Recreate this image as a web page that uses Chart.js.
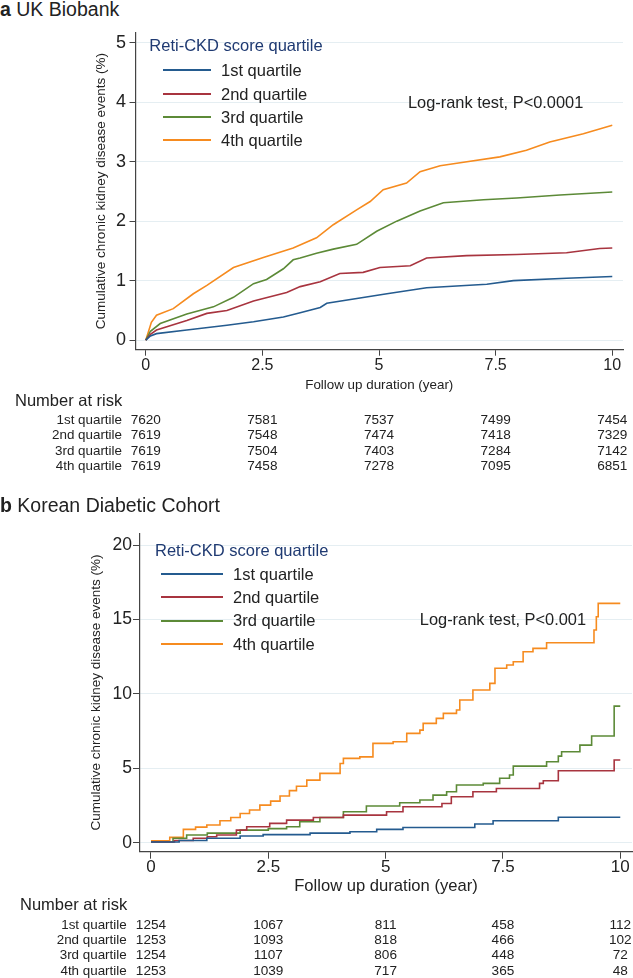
<!DOCTYPE html>
<html>
<head>
<meta charset="utf-8">
<title>Reti-CKD score quartile - cumulative CKD events</title>
<script src="https://cdn.jsdelivr.net/npm/chart.js@4.4.0/dist/chart.umd.min.js"></script>
<style>
  body { margin: 0; background: #fff; }
  #page { position: relative; width: 633px; height: 978px; overflow: hidden;
          font-family: "Liberation Sans", Arial, sans-serif; color: #222; }
  #page canvas { position: absolute; left: 0; }
  .txt { position: absolute; white-space: nowrap; }
  .key { position: absolute; height: 1.8px; }
</style>
</head>
<body>
<div id="page">
  <canvas id="chartA" width="633" height="375" style="top:20px"></canvas>
  <canvas id="chartB" width="633" height="420" style="top:480px"></canvas>
</div>
<script>
const quartiles = ['1st quartile', '2nd quartile', '3rd quartile', '4th quartile']
const lineColors = ['#245b8f', '#a8343f', '#5c8a37', '#f68b1f']

const xTicks = [0, 2.5, 5, 7.5, 10]
const xTickLabels = ['0', '2.5', '5', '7.5', '10']
const ukYTicks = [0, 1, 2, 3, 4, 5]
const krYTicks = [0, 5, 10, 15, 20]

// a  UK Biobank (years, cumulative %)
const ukYears1 = [0, 0.1, 0.23, 0.88, 1.74, 2.31, 2.95, 3.31, 3.74, 3.88, 5.17, 6.02, 7.31, 7.88, 9.02, 10]
const ukCum1 = [0, 0.07, 0.11, 0.17, 0.25, 0.31, 0.39, 0.46, 0.55, 0.62, 0.78, 0.88, 0.94, 1.0, 1.04, 1.07]
const ukYears2 = [0, 0.1, 0.23, 0.88, 1.31, 1.74, 2.31, 3.02, 3.31, 3.74, 4.16, 4.66, 5.02, 5.67, 6.02, 6.88, 7.95, 9.02, 9.73, 10]
const ukCum2 = [0, 0.1, 0.17, 0.33, 0.45, 0.5, 0.66, 0.8, 0.9, 0.98, 1.12, 1.14, 1.22, 1.25, 1.38, 1.42, 1.44, 1.47, 1.54, 1.55]
const ukYears3 = [0, 0.1, 0.31, 0.88, 1.45, 1.88, 2.31, 2.59, 2.95, 3.16, 3.31, 3.66, 4.02, 4.52, 4.95, 5.38, 5.88, 6.38, 7.24, 7.95, 8.88, 10]
const ukCum3 = [0, 0.15, 0.28, 0.44, 0.56, 0.72, 0.95, 1.02, 1.2, 1.35, 1.38, 1.46, 1.53, 1.61, 1.83, 2.0, 2.17, 2.31, 2.36, 2.39, 2.44, 2.49]
const ukYears4 = [0, 0.12, 0.23, 0.59, 1.02, 1.31, 1.88, 2.52, 3.16, 3.66, 4.02, 4.52, 4.81, 5.09, 5.59, 5.88, 6.31, 6.74, 7.59, 8.16, 8.66, 9.38, 10]
const ukCum4 = [0, 0.3, 0.42, 0.53, 0.78, 0.92, 1.22, 1.39, 1.55, 1.72, 1.94, 2.19, 2.33, 2.53, 2.64, 2.83, 2.93, 2.98, 3.08, 3.19, 3.33, 3.47, 3.61]

const ukRisk1 = [7620, 7581, 7537, 7499, 7454]
const ukRisk2 = [7619, 7548, 7474, 7418, 7329]
const ukRisk3 = [7619, 7504, 7403, 7284, 7142]
const ukRisk4 = [7619, 7458, 7278, 7095, 6851]

// b  Korean Diabetic Cohort (years, cumulative %), step changes
const krYears1 = [0, 0.6, 1.19, 1.9, 2.39, 3.39, 4.24, 4.81, 5.37, 6.9, 7.29, 8.68, 10]
const krCum1 = [0.05, 0.15, 0.3, 0.45, 0.55, 0.65, 0.74, 0.9, 1.03, 1.26, 1.48, 1.71, 1.71]
const krYears2 = [0, 0.5, 0.9, 1.2, 1.4, 1.82, 2.04, 2.53, 2.89, 3.46, 4.1, 5.02, 5.37, 6.2, 6.4, 6.86, 7.36, 8.28, 8.36, 8.68, 9.87, 10]
const krCum2 = [0.05, 0.15, 0.3, 0.4, 0.52, 0.85, 1.08, 1.3, 1.52, 1.7, 1.86, 2.08, 2.42, 2.64, 3.09, 3.43, 3.65, 3.99, 4.17, 4.84, 5.56, 5.56]
const krYears3 = [0, 0.47, 0.76, 1.2, 1.9, 2.5, 2.89, 3.17, 3.6, 4.1, 4.59, 5.3, 5.73, 6.01, 6.3, 6.51, 7.08, 7.43, 7.64, 7.72, 8.43, 8.68, 8.75, 9.14, 9.39, 9.87, 10]
const krCum3 = [0.05, 0.3, 0.52, 0.65, 0.85, 0.95, 1.08, 1.41, 1.7, 2.08, 2.47, 2.69, 2.87, 3.2, 3.43, 3.88, 3.99, 4.33, 4.55, 5.15, 5.44, 5.82, 6.11, 6.56, 7.17, 9.18, 9.18]
const krYears4 = [0, 0.4, 0.69, 0.95, 1.19, 1.47, 1.7, 1.9, 2.1, 2.32, 2.55, 2.75, 2.95, 3.1, 3.32, 3.6, 4.03, 4.1, 4.45, 4.73, 5.16, 5.45, 5.73, 5.8, 6.08, 6.23, 6.51, 6.58, 6.86, 7.22, 7.33, 7.58, 7.72, 7.93, 8.14, 8.43, 9.44, 9.49, 9.53, 10]
const krCum4 = [0.13, 0.36, 0.9, 1.05, 1.19, 1.48, 1.7, 1.97, 2.2, 2.53, 2.8, 3.14, 3.5, 3.8, 4.21, 4.66, 5.33, 5.67, 5.77, 6.68, 6.79, 7.35, 7.57, 8.02, 8.36, 8.69, 8.92, 9.59, 10.26, 10.71, 11.72, 11.94, 12.16, 12.83, 13.06, 13.44, 14.29, 15.18, 16.08, 16.08]

const krRisk1 = [1254, 1067, 811, 458, 112]
const krRisk2 = [1253, 1093, 818, 466, 102]
const krRisk3 = [1254, 1107, 806, 448, 72]
const krRisk4 = [1253, 1039, 717, 365, 48]

const page = document.getElementById('page')
const FONT = '"Liberation Sans", Arial, sans-serif'
const INK = '#222'
const AXIS = '#444'

function label(html, x, cy, size, align, extra) {
  const d = document.createElement('div')
  d.className = 'txt'
  d.innerHTML = html
  d.style.fontSize = size + 'px'
  d.style.lineHeight = size + 'px'
  d.style.top = (cy - size / 2) + 'px'
  if (align === 'right') {
    d.style.right = (633 - x) + 'px'
  } else {
    d.style.left = x + 'px'
    if (align === 'center') d.style.transform = 'translateX(-50%)'
  }
  if (extra) Object.assign(d.style, extra)
  page.appendChild(d)
}

function drawPanel(p) {
  const datasets = p.years.map((yrs, i) => ({
    label: quartiles[i],
    data: yrs.map((t, k) => ({ x: t, y: p.cum[i][k] })),
    borderColor: lineColors[i],
    borderWidth: 1.6,
    pointRadius: 0,
    tension: 0,
    stepped: p.stepped,
    fill: false
  }))

  const chart = new Chart(document.getElementById(p.canvas), {
    type: 'line',
    data: { datasets },
    options: {
      responsive: false,
      animation: false,
      events: [],
      layout: { padding: { top: p.area.top - p.top, right: 633 - p.area.right, left: 0, bottom: 0 } },
      plugins: { legend: { display: false }, tooltip: { enabled: false } },
      scales: {
        x: {
          type: 'linear',
          min: p.xMin,
          max: p.xMax,
          afterBuildTicks: s => { s.ticks = xTicks.map(v => ({ value: v })) },
          afterFit: s => { s.height = p.top + p.height - p.area.bottom },
          ticks: {
            autoSkip: false, maxRotation: 0, color: INK, padding: p.xTickPad,
            font: { family: FONT, size: p.xTickSize, lineHeight: 1 },
            callback: (v, i) => xTickLabels[i]
          },
          grid: { drawOnChartArea: false, tickLength: p.tickLen, tickColor: AXIS, tickWidth: 1 },
          border: { color: AXIS, width: 1.2 },
          title: {
            display: true, text: 'Follow up duration (year)', color: INK,
            font: { family: FONT, size: p.xTitleSize, lineHeight: 1 },
            padding: { top: 0, bottom: p.xTitlePad }
          }
        },
        y: {
          min: p.yMin,
          max: p.yMax,
          afterBuildTicks: s => { s.ticks = p.yTicks.map(v => ({ value: v })) },
          afterFit: s => { s.width = p.area.left },
          ticks: {
            autoSkip: false, color: INK, padding: p.yTickPad,
            font: { family: FONT, size: p.yTickSize, lineHeight: 1 },
            callback: v => String(v)
          },
          grid: { color: '#e5eef2', lineWidth: 1, tickLength: p.tickLen, tickColor: AXIS, tickWidth: 1 },
          border: { color: AXIS, width: 1.2 },
          title: {
            display: true, text: 'Cumulative chronic kidney disease events (%)', color: INK,
            font: { family: FONT, size: 13.5, lineHeight: 1 },
            padding: { top: p.yTitlePad, bottom: 0 }
          }
        }
      }
    }
  })

  const xPix = v => chart.scales.x.getPixelForValue(v)
  const yPix = v => p.top + chart.scales.y.getPixelForValue(v)

  label(p.title, 0, p.titleY, 19.5, 'left')

  // legend inside the plot region
  label('Reti-CKD score quartile', p.legend.x, p.legend.titleY, 16.5, 'left', { color: '#1f3a72' })
  quartiles.forEach((q, i) => {
    const cy = p.legend.rowY[i]
    const k = document.createElement('div')
    k.className = 'key'
    k.style.left = p.legend.lineX + 'px'
    k.style.width = p.legend.lineW + 'px'
    k.style.top = (cy - 0.9) + 'px'
    k.style.background = lineColors[i]
    page.appendChild(k)
    label(q, p.legend.textX, cy, 16.5, 'left')
  })

  label(p.note, xPix(p.noteAt[0]), yPix(p.noteAt[1]), 16.4, 'center')

  // number at risk table, numbers centred under the x ticks
  label('Number at risk', p.risk.x, p.risk.headY, 16.5, 'left')
  p.risk.rows.forEach((row, i) => {
    const cy = p.risk.rowY[i]
    label(quartiles[i], p.risk.labelRight, cy, 13.4, 'right')
    row.forEach((n, k) => label(String(n), xPix(xTicks[k]), cy, 13.6, 'center'))
  })
}

drawPanel({
  canvas: 'chartA', top: 20, height: 375,
  area: { left: 135.5, top: 30, right: 623, bottom: 349.7 },
  xMin: -0.22, xMax: 10.23, yMin: -0.16, yMax: 5.17, yTicks: ukYTicks,
  xTickSize: 16, yTickSize: 18, xTickPad: 2, yTickPad: 3.5, tickLen: 6,
  xTitleSize: 13.4, xTitlePad: 2.6, yTitlePad: 95,
  stepped: false,
  years: [ukYears1, ukYears2, ukYears3, ukYears4],
  cum: [ukCum1, ukCum2, ukCum3, ukCum4],
  title: '<b>a</b> UK Biobank', titleY: 9.5,
  legend: { x: 149.3, titleY: 45, lineX: 163, lineW: 48, textX: 221, rowY: [70, 94, 117, 140] },
  note: 'Log-rank test, P&lt;0.0001', noteAt: [7.5, 4],
  risk: { x: 15, headY: 400, labelRight: 122, rowY: [419.3, 435, 450.7, 466],
          rows: [ukRisk1, ukRisk2, ukRisk3, ukRisk4] }
})

drawPanel({
  canvas: 'chartB', top: 480, height: 420,
  area: { left: 140, top: 533.3, right: 632, bottom: 851.7 },
  xMin: -0.234, xMax: 10.25, yMin: -0.6, yMax: 20.79, yTicks: krYTicks,
  xTickSize: 17, yTickSize: 17.5, xTickPad: 0, yTickPad: 1, tickLen: 7,
  xTitleSize: 16.6, xTitlePad: 5, yTitlePad: 90,
  stepped: 'before',
  years: [krYears1, krYears2, krYears3, krYears4],
  cum: [krCum1, krCum2, krCum3, krCum4],
  title: '<b>b</b> Korean Diabetic Cohort', titleY: 505.5,
  legend: { x: 155, titleY: 550, lineX: 161, lineW: 62, textX: 233, rowY: [574.3, 597.3, 620.7, 644] },
  note: 'Log-rank test, P&lt;0.001', noteAt: [7.5, 15],
  risk: { x: 20, headY: 904.3, labelRight: 126.7, rowY: [924.3, 939.3, 955, 970.7],
          rows: [krRisk1, krRisk2, krRisk3, krRisk4] }
})
</script>
</body>
</html>
